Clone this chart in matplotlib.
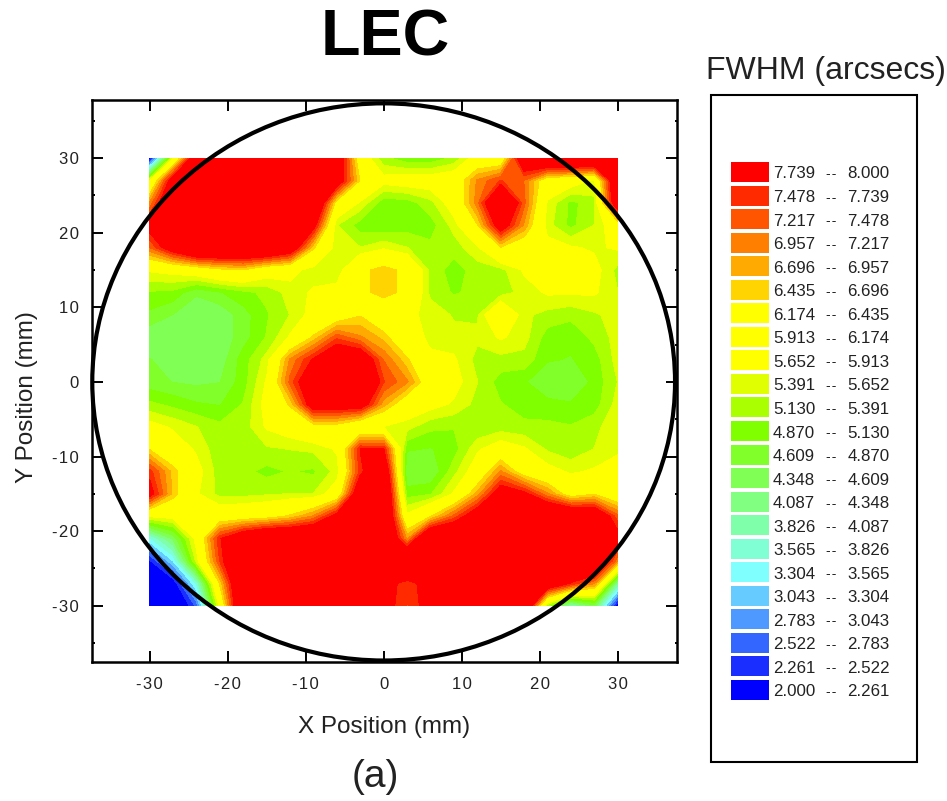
import numpy as np
import matplotlib
matplotlib.use('Agg')
import matplotlib.pyplot as plt
from matplotlib.patches import Circle, Rectangle

plt.rcParams['font.family'] = ['Liberation Sans', 'DejaVu Sans']
plt.rcParams['axes.unicode_minus'] = False

W, H = 947, 801

# measured FWHM, 3 mm grid, rows from y=30 down to y=-30
x_pos = [-30, -27, -24, -21, -18, -15, -12, -9, -6, -3, 0, 3, 6, 9, 12, 15, 18, 21, 24, 27, 30]
y_pos = [30, 27, 24, 21, 18, 15, 12, 9, 6, 3, 0, -3, -6, -9, -12, -15, -18, -21, -24, -27, -30]
tick_vals = [-30, -20, -10, 0, 10, 20, 30]

fwhm = [
    [2.0, 5.6, 8.5, 9.0, 9.0, 9.0, 9.0, 9.0, 8.5, 6.0, 5.2, 4.95, 4.95, 5.2, 5.9, 5.9, 8.5, 9.0, 9.0, 9.0, 9.0],
    [5.6, 8.2, 9.0, 9.0, 9.0, 9.0, 9.0, 9.0, 8.3, 6.4, 5.8, 5.9, 5.9, 6.0, 7.0, 7.5, 7.2, 6.0, 5.9, 5.6, 8.8],
    [7.0, 8.8, 9.0, 9.0, 9.0, 9.0, 9.0, 9.0, 6.2, 5.6, 4.95, 5.0, 5.3, 5.9, 7.1, 9.0, 7.3, 5.6, 5.05, 5.3, 8.5],
    [8.0, 9.0, 9.0, 9.0, 9.0, 9.0, 9.0, 8.0, 5.4, 5.0, 4.9, 5.0, 5.0, 5.5, 6.4, 8.2, 6.9, 5.5, 5.05, 5.4, 6.0],
    [7.2, 8.2, 9.0, 9.0, 9.0, 9.0, 8.4, 6.5, 5.45, 5.4, 5.6, 5.4, 5.2, 5.25, 5.6, 6.4, 6.0, 5.8, 5.7, 5.6, 5.7],
    [5.7, 5.8, 6.0, 6.3, 6.4, 5.9, 5.8, 5.5, 5.45, 6.3, 6.6, 6.3, 5.3, 5.0, 5.25, 5.3, 5.7, 5.9, 5.9, 5.8, 5.3],
    [5.1, 5.05, 4.65, 4.85, 5.05, 5.2, 5.5, 5.7, 5.8, 6.3, 6.6, 6.3, 5.3, 5.1, 5.2, 5.25, 5.5, 5.7, 5.7, 5.7, 5.4],
    [4.8, 4.6, 4.4, 4.4, 4.75, 5.1, 5.4, 5.8, 6.0, 6.4, 5.9, 5.7, 5.6, 5.35, 5.35, 6.3, 5.45, 5.3, 5.2, 5.35, 5.5],
    [4.4, 4.4, 4.35, 4.4, 4.75, 5.15, 5.7, 6.5, 7.4, 7.0, 6.6, 5.8, 5.6, 5.5, 5.45, 5.7, 5.5, 5.0, 4.95, 5.2, 5.5],
    [4.62, 4.5, 4.4, 4.45, 5.0, 5.5, 7.0, 7.8, 8.5, 8.4, 7.2, 6.5, 5.7, 5.7, 5.3, 5.3, 5.3, 4.9, 4.85, 5.0, 5.5],
    [4.7, 4.6, 4.55, 4.6, 5.0, 5.7, 7.3, 8.5, 9.0, 9.0, 7.5, 7.0, 6.0, 5.8, 5.4, 5.0, 4.9, 4.65, 4.6, 4.95, 5.4],
    [5.2, 5.05, 4.9, 4.85, 5.15, 5.8, 6.5, 8.2, 8.2, 8.2, 6.8, 6.0, 5.8, 5.6, 5.3, 5.15, 5.0, 4.95, 4.9, 5.0, 5.5],
    [5.8, 5.6, 5.4, 5.2, 5.25, 5.7, 5.9, 6.2, 6.2, 5.7, 5.65, 5.5, 5.2, 5.15, 5.15, 5.25, 5.2, 5.2, 5.15, 5.3, 5.6],
    [6.4, 5.9, 5.6, 5.2, 5.2, 5.35, 5.4, 5.45, 5.7, 7.76, 7.76, 4.9, 4.85, 5.0, 5.6, 5.9, 5.7, 5.35, 5.2, 5.4, 5.6],
    [7.6, 6.6, 5.8, 5.25, 5.2, 5.05, 5.15, 5.08, 5.5, 7.6, 8.6, 4.6, 4.6, 5.3, 5.9, 7.0, 6.1, 5.8, 5.6, 5.7, 5.8],
    [8.0, 6.6, 5.7, 5.3, 5.3, 5.35, 5.4, 5.4, 5.9, 8.5, 9.0, 5.0, 5.1, 5.7, 6.8, 8.2, 7.9, 7.0, 6.1, 6.4, 5.9],
    [5.7, 5.8, 5.9, 6.0, 6.1, 6.2, 6.5, 7.0, 8.0, 9.0, 9.0, 5.75, 6.4, 7.3, 8.3, 9.0, 9.0, 9.0, 8.8, 8.6, 7.3],
    [3.5, 4.4, 5.8, 7.7, 8.5, 9.0, 9.0, 9.0, 9.0, 9.0, 9.0, 6.9, 9.0, 9.0, 9.0, 9.0, 9.0, 9.0, 9.0, 9.0, 8.0],
    [2.2, 3.3, 5.5, 7.5, 9.0, 9.0, 9.0, 9.0, 9.0, 9.0, 9.0, 9.0, 9.0, 9.0, 9.0, 9.0, 9.0, 9.0, 9.0, 9.0, 7.0],
    [1.5, 2.0, 3.6, 6.5, 9.0, 9.0, 9.0, 9.0, 9.0, 9.0, 8.0, 7.55, 8.0, 9.0, 9.0, 9.0, 9.0, 8.5, 7.7, 7.0, 4.0],
    [1.5, 1.5, 2.6, 5.8, 9.0, 9.0, 9.0, 9.0, 9.0, 9.0, 8.0, 7.45, 8.0, 9.0, 9.0, 9.0, 9.0, 5.2, 3.8, 4.5, 2.0],
]

# contour levels and colours, low to high
levels = [2.000, 2.261, 2.522, 2.783, 3.043, 3.304, 3.565, 3.826, 4.087, 4.348, 4.609, 4.870,
          5.130, 5.391, 5.652, 5.913, 6.174, 6.435, 6.696, 6.957, 7.217, 7.478, 7.739, 8.000]
band_colors = ['#0000ff', '#1a2eff', '#3366ff', '#4d99ff', '#66ccff', '#80ffff', '#80ffd4', '#80ffaa',
               '#80ff80', '#80ff55', '#80ff2a', '#80ff00', '#aaff00', '#e0ff00', '#ffff00', '#ffff00',
               '#ffff00', '#ffd400', '#ffaa00', '#ff8000', '#ff5500', '#ff2a00', '#ff0000']


def spaced(s):
    # hair spaces, the original text is tracked out a little
    return '\u200a'.join(s)


fig = plt.figure(figsize=(W / 100, H / 100), dpi=100)

# axes frame in pixels
ax = fig.add_axes([91.5 / W, 1 - 662 / H, (677 - 91.5) / W, (662 - 100) / H])

X, Y = np.meshgrid(x_pos, y_pos)
ax.contourf(X, Y, np.array(fwhm), levels=levels, extend='both',
            colors=[band_colors[0]] + band_colors + [band_colors[-1]], antialiased=False)

ax.add_patch(Circle((0, 0), 37.35, fill=False, ec='black', lw=3.0, clip_on=False, zorder=5))

ax.set_xlim(-37.45, 37.6)
ax.set_ylim(-37.55, 37.8)
tick_labels = [spaced(str(v)) for v in tick_vals]
ax.set_xticks(tick_vals, labels=tick_labels)
ax.set_yticks(tick_vals, labels=tick_labels)
ax.set_yticks(np.arange(-35, 36, 10), minor=True)
ax.tick_params(which='major', direction='in', top=True, right=True, length=8, width=1.4,
               labelsize=12, labelcolor='#222222')
ax.tick_params(axis='x', which='major', pad=11)
ax.tick_params(axis='y', which='major', pad=9)
ax.tick_params(which='minor', direction='in', left=True, right=True, length=1.8, width=1.4)
for s in ax.spines.values():
    s.set_linewidth(1.8)
ax.set_xlabel('X Position (mm)', fontsize=17.5, color='#222222')
ax.set_ylabel('Y Position (mm)', fontsize=17.5, color='#222222')
ax.xaxis.set_label_coords(0.5, (662 - 716) / 562)
ax.yaxis.set_label_coords((38 - 91.5) / 585.5, (662 - 397) / 562)

fig.text(385 / W, 1 - 38 / H, 'LEC', fontsize=46.5, fontweight='bold', ha='center', va='center')
fig.text(375 / W, 1 - 777 / H, '(a)', fontsize=28, ha='center', va='center', color='#222222')
fig.text(825.5 / W, 1 - 71 / H, 'FWHM (arcsecs)', fontsize=23, ha='center', va='center', color='#222222')

# legend drawn on an overlay in pixel coordinates
leg = fig.add_axes([0, 0, 1, 1])
leg.set_xlim(0, W)
leg.set_ylim(H, 0)
leg.axis('off')
leg.add_patch(Rectangle((711, 94.5), 206, 667, fill=False, ec='black', lw=1.5))

n = len(band_colors)
for i in range(n):
    top = 162 + i * (680 - 162) / (n - 1)
    k = n - 1 - i
    leg.add_patch(Rectangle((731, top), 38, 20, fc=band_colors[k], ec='none'))
    yc = top + 12
    leg.text(773, yc, f'{levels[k]:.3f}', fontsize=12.2, color='#222222', va='center')
    leg.text(826.5, yc, spaced('--'), fontsize=10, color='#222222', va='center')
    leg.text(847.5, yc, f'{levels[k + 1]:.3f}', fontsize=12.2, color='#222222', va='center')

fig.savefig('out.png', dpi=100)
